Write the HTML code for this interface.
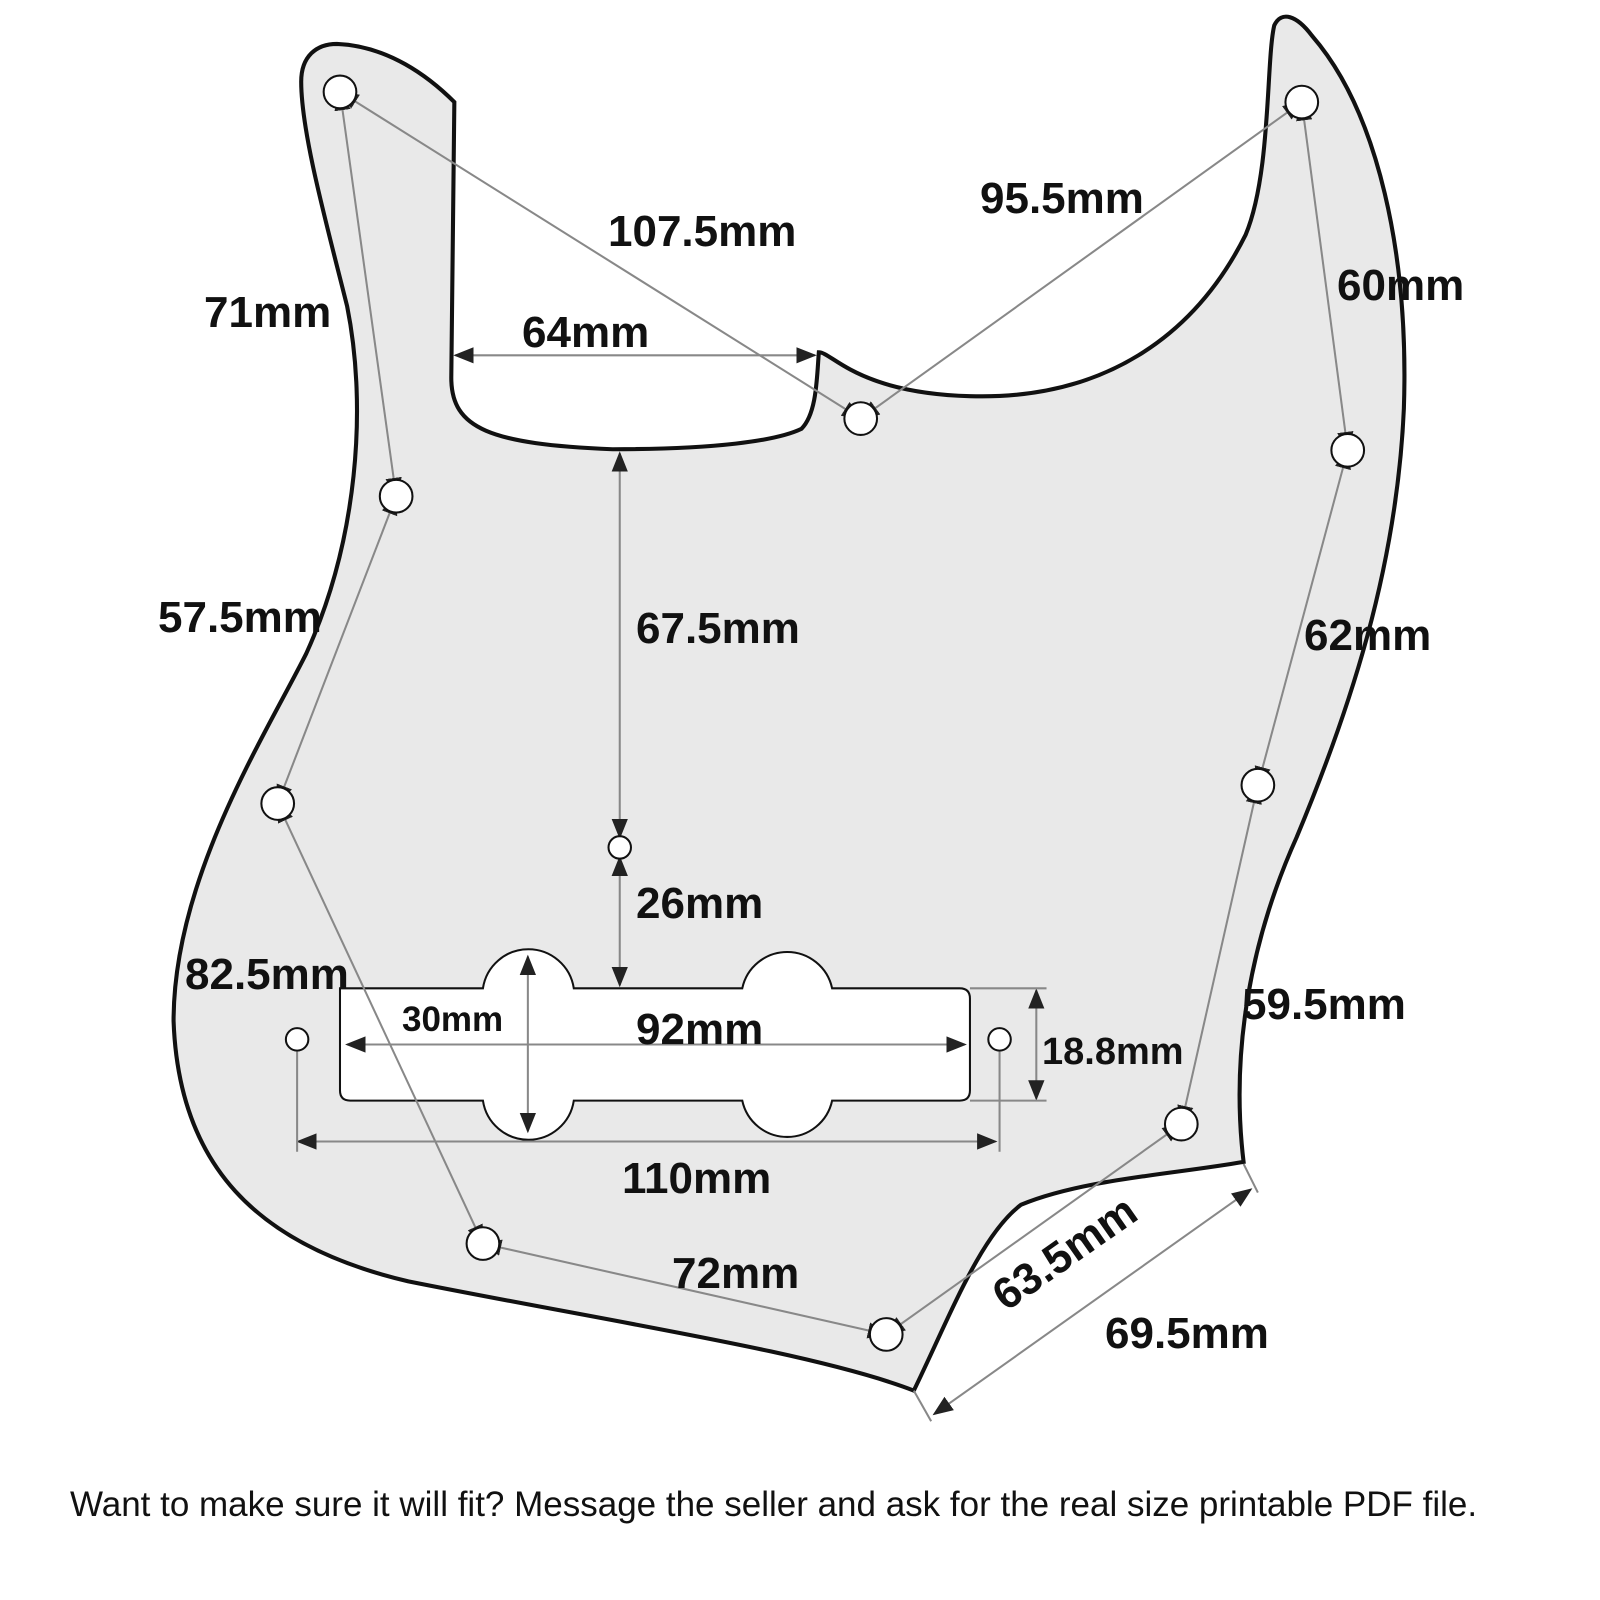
<!DOCTYPE html>
<html><head><meta charset="utf-8"><style>
html,body{margin:0;padding:0;background:#fff;width:1600px;height:1600px;overflow:hidden}
svg{display:block}
.t{font-family:"Liberation Sans",sans-serif;font-weight:bold;font-size:44px;fill:#111}
.f{font-family:"Liberation Sans",sans-serif;font-size:35px;fill:#111}
.d{stroke:#888;stroke-width:2;fill:none}
.h{fill:#fff;stroke:#111;stroke-width:2}
</style></head><body>
<svg width="1600" height="1600" viewBox="0 0 1600 1600" xmlns="http://www.w3.org/2000/svg">
<defs><marker id="a" markerWidth="10" markerHeight="10" refX="9" refY="5" orient="auto-start-reverse"><path d="M0,1 L10,5 L0,9 z" fill="#222"/></marker></defs>
<g transform="scale(1.021)">
<path d="M330,43 C380,45 420,75 445,100 L442,370 C442,420 480,435 600,440 C700,440 760,432 785,420 C800,405 800,370 802,345 C815,345 840,385 950,388 C1080,392 1170,330 1220,230 C1245,170 1240,60 1248,25 C1255,10 1270,15 1285,35 C1350,110 1380,250 1375,400 C1368,560 1320,700 1270,820 C1225,920 1205,1030 1218,1138 C1150,1150 1060,1155 1000,1180 C960,1210 930,1290 895,1362 C800,1325 600,1295 400,1255 C250,1220 175,1140 170,1000 C170,860 260,720 300,640 C350,530 360,400 340,300 C320,220 295,130 295,80 C295,55 310,43 330,43 Z" fill="#e9e9e9" stroke="#111" stroke-width="4"/>
<path d="M333,968 L473,968 A45,45 0 0 1 562,968 L727,968 A45,45 0 0 1 815,968 L940,968 Q950,968 950,978 L950,1068 Q950,1078 940,1078 L815,1078 A45,45 0 0 1 727,1078 L562,1078 A45,45 0 0 1 473,1078 L343,1078 Q333,1078 333,1068 Z" fill="#fff" stroke="#111" stroke-width="2"/>
<g class="d">
<line x1="333" y1="90" x2="843" y2="410" marker-end="url(#a)" marker-start="url(#a)"/>
<line x1="1275" y1="100" x2="843" y2="410" marker-end="url(#a)" marker-start="url(#a)"/>
<line x1="333" y1="90" x2="388" y2="486" marker-end="url(#a)" marker-start="url(#a)"/>
<line x1="388" y1="486" x2="272" y2="787" marker-end="url(#a)" marker-start="url(#a)"/>
<line x1="272" y1="787" x2="473" y2="1218" marker-end="url(#a)" marker-start="url(#a)"/>
<line x1="473" y1="1218" x2="868" y2="1307" marker-end="url(#a)" marker-start="url(#a)"/>
<line x1="868" y1="1307" x2="1157" y2="1101" marker-end="url(#a)" marker-start="url(#a)"/>
<line x1="1157" y1="1101" x2="1232" y2="769" marker-end="url(#a)" marker-start="url(#a)"/>
<line x1="1232" y1="769" x2="1320" y2="441" marker-end="url(#a)" marker-start="url(#a)"/>
<line x1="1320" y1="441" x2="1275" y2="100" marker-end="url(#a)" marker-start="url(#a)"/>
<line x1="446" y1="348" x2="798" y2="348" marker-end="url(#a)" marker-start="url(#a)"/>
<line x1="607" y1="444" x2="607" y2="820" marker-end="url(#a)" marker-start="url(#a)"/>
<line x1="607" y1="840" x2="607" y2="965" marker-end="url(#a)" marker-start="url(#a)"/>
<line x1="517" y1="937" x2="517" y2="1108" marker-end="url(#a)" marker-start="url(#a)"/>
<line x1="340" y1="1023" x2="945" y2="1023" marker-end="url(#a)" marker-start="url(#a)"/>
<line x1="292" y1="1118" x2="975" y2="1118" marker-end="url(#a)" marker-start="url(#a)"/>
<line x1="291" y1="1030" x2="291" y2="1128"/>
<line x1="979" y1="1030" x2="979" y2="1128"/>
<line x1="1015" y1="970" x2="1015" y2="1076" marker-end="url(#a)" marker-start="url(#a)"/>
<line x1="950" y1="968" x2="1025" y2="968"/>
<line x1="950" y1="1078" x2="1025" y2="1078"/>
<line x1="915" y1="1385" x2="1225" y2="1165" marker-end="url(#a)" marker-start="url(#a)"/>
<line x1="895" y1="1362" x2="912" y2="1392"/>
<line x1="1218" y1="1140" x2="1232" y2="1168"/>
</g>
<g class="h">
<circle cx="333" cy="90" r="16"/><circle cx="1275" cy="100" r="16"/><circle cx="843" cy="410" r="16"/>
<circle cx="388" cy="486" r="16"/><circle cx="1320" cy="441" r="16"/><circle cx="272" cy="787" r="16"/>
<circle cx="1232" cy="769" r="16"/><circle cx="607" cy="830" r="11"/><circle cx="1157" cy="1101" r="16"/>
<circle cx="473" cy="1218" r="16"/><circle cx="868" cy="1307" r="16"/><circle cx="291" cy="1018" r="11"/><circle cx="979" cy="1018" r="11"/>
</g>
</g>
<text class="t" x="608" y="246">107.5mm</text>
<text class="t" x="980" y="213">95.5mm</text>
<text class="t" x="204" y="327">71mm</text>
<text class="t" x="522" y="347">64mm</text>
<text class="t" x="1337" y="300">60mm</text>
<text class="t" x="158" y="632">57.5mm</text>
<text class="t" x="636" y="643">67.5mm</text>
<text class="t" x="1304" y="650">62mm</text>
<text class="t" x="636" y="918">26mm</text>
<text class="t" x="185" y="989">82.5mm</text>
<text class="t" x="1242" y="1019">59.5mm</text>
<text class="t" x="402" y="1031" style="font-size:35px">30mm</text>
<text class="t" x="636" y="1044">92mm</text>
<text class="t" x="1042" y="1064" style="font-size:38px">18.8mm</text>
<text class="t" x="622" y="1193">110mm</text>
<text class="t" x="672" y="1288">72mm</text>
<text class="t" x="0" y="0" transform="translate(1006,1312) rotate(-35)">63.5mm</text>
<text class="t" x="1105" y="1348">69.5mm</text>
<text class="f" x="70" y="1516">Want to make sure it will fit? Message the seller and ask for the real size printable PDF file.</text>
</svg>
</body></html>
